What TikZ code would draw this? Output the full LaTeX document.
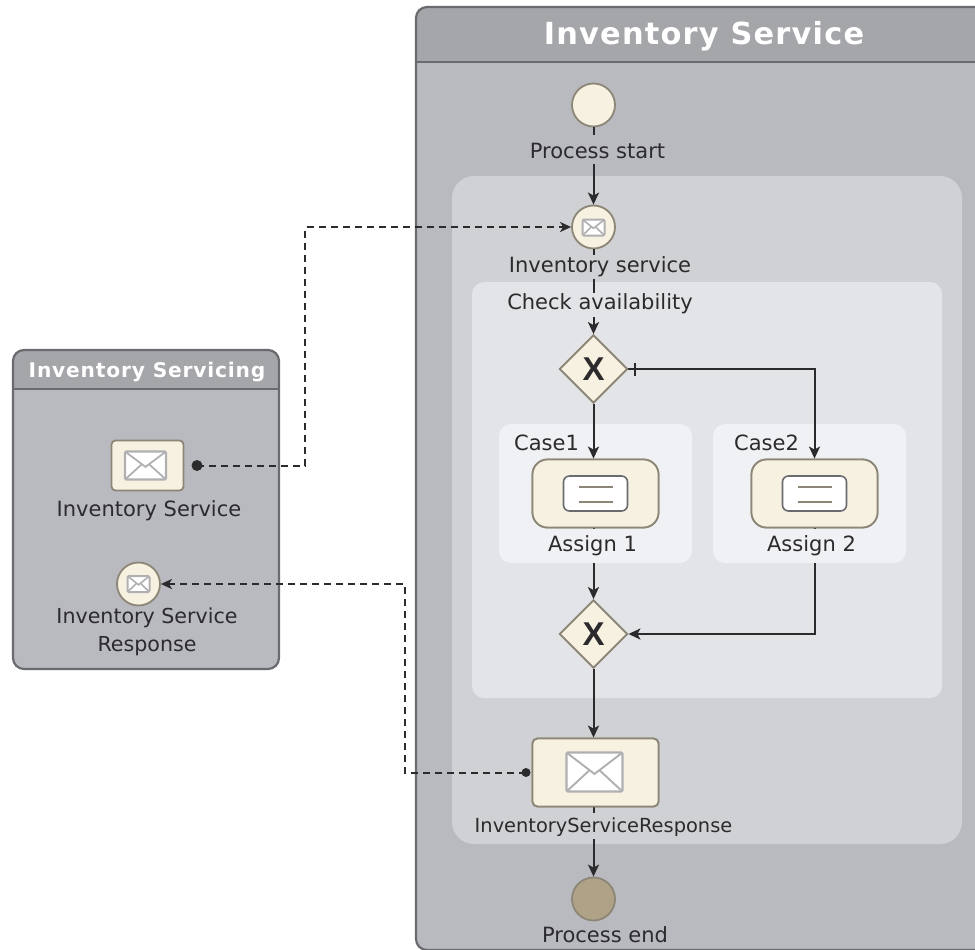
\documentclass[tikz,border=0pt]{standalone}
\usepackage{fontspec}
\setmainfont{DejaVu Sans}
\newfontfamily\titlefont[LetterSpace=4]{DejaVu Sans Bold}
\newfontfamily\gwfont{Liberation Sans Bold}
\usetikzlibrary{arrows.meta,calc,shapes.geometric}
\definecolor{poolbody}{HTML}{B9BAC0}
\definecolor{poolhead}{HTML}{A5A6AA}
\definecolor{poolline}{HTML}{6A6B6E}
\definecolor{scopeA}{HTML}{D0D1D4}
\definecolor{scopeB}{HTML}{E3E4E7}
\definecolor{scopeC}{HTML}{F0F1F4}
\definecolor{cream}{HTML}{F6F1E1}
\definecolor{taupe}{HTML}{8C8676}
\definecolor{endfill}{HTML}{B0A287}
\definecolor{ink}{HTML}{2B2A2C}
\definecolor{envline}{HTML}{B0B0B2}
\newcommand{\envelopeicon}[5]{% x y w h lw
  \draw[envline,line width=#5,fill=white,rounded corners=1.5pt] (#1-#3/2,#2-#4/2) rectangle (#1+#3/2,#2+#4/2);
  \draw[envline,line width=#5*0.8] (#1-#3/2,#2-#4/2) -- (#1,#2+#4*0.05) -- (#1+#3/2,#2-#4/2);
  \draw[envline,line width=#5*0.8] (#1-#3/2,#2+#4/2) -- (#1-#3*0.1,#2-#4*0.03);
  \draw[envline,line width=#5*0.8] (#1+#3/2,#2+#4/2) -- (#1+#3*0.1,#2-#4*0.03);
}
\newcommand{\taskicon}[2]{%
  \draw[poolline,line width=1.6pt,fill=white,rounded corners=6pt] (#1-32,#2-17.5) rectangle (#1+32,#2+17.5);
  \draw[taupe,line width=1.5pt] (#1-17,#2-6.5) -- (#1+17,#2-6.5) (#1-17,#2+8.5) -- (#1+17,#2+8.5);
}
\tikzset{
  x=1pt,y=-1pt,
  event/.style={circle,draw=taupe,fill=cream,line width=1.8pt,minimum size=43pt,inner sep=0pt},
  gateway/.style={diamond,draw=taupe,fill=cream,line width=1.8pt,minimum width=68pt,minimum height=68pt,inner sep=0pt,font=\gwfont\fontsize{33}{33}\selectfont,text=ink},
  tasknode/.style={rectangle,rounded corners=15pt,draw=taupe,fill=cream,line width=1.8pt,minimum width=126pt,minimum height=68pt,inner sep=0pt},
  msgnode/.style={rectangle,rounded corners=5pt,draw=taupe,fill=cream,line width=1.8pt,minimum width=126pt,minimum height=68pt,inner sep=0pt},
  label/.style={text=ink,font=\fontsize{21}{25}\selectfont,inner sep=0pt,anchor=base},
  mask/.style 2 args={text height=#1pt,text depth=#2pt},
  flow/.style={ink,line width=2pt,-{Stealth[length=12pt,width=11pt,inset=3pt]}},
  plainflow/.style={ink,line width=2pt},
  msgflow/.style={ink,line width=2pt,dash pattern=on 7pt off 5pt,-{Stealth[length=11pt,width=10pt,inset=3pt]}},
  pooledge/.style={draw=poolline,line width=2.2pt},
}
\begin{document}
\begin{tikzpicture}
\clip (0,0) rectangle (975,950);
% main pool
\fill[poolbody,rounded corners=11pt] (416,7) rectangle (1000,950);
\begin{scope}
  \clip[rounded corners=11pt] (416,7) rectangle (1000,1000);
  \fill[poolhead] (416,7) rectangle (1000,62);
\end{scope}
\draw[pooledge,rounded corners=11pt] (416,7) rectangle (1000,950);
\draw[pooledge] (416,62) -- (1000,62);
\node[text=white,font=\titlefont\fontsize{30.4}{32}\selectfont,inner sep=0pt,anchor=base] (titleA) at (704,45) {Inventory Service};
% scopes
\fill[scopeA,rounded corners=22pt] (452,176) rectangle (962,844);
\fill[scopeB,rounded corners=12pt] (472,282) rectangle (942,698);
\fill[scopeC,rounded corners=12pt] (499,424) rectangle (692,563);
\fill[scopeC,rounded corners=12pt] (713,424) rectangle (906,563);
% left pool
\fill[poolbody,rounded corners=11pt] (13,350) rectangle (279,669);
\begin{scope}
  \clip[rounded corners=11pt] (13,350) rectangle (279,669);
  \fill[poolhead] (13,350) rectangle (279,389);
\end{scope}
\draw[pooledge,rounded corners=11pt] (13,350) rectangle (279,669);
\draw[pooledge] (13,389) -- (279,389);
\node[text=white,font=\titlefont\fontsize{20.2}{22}\selectfont,inner sep=0pt,anchor=base] (titleB) at (147,377) {Inventory Servicing};
% nodes
\node[event] (start) at (593.5,105) {};
\node[event] (recv) at (593.5,227) {};
\node[gateway] (gw1) at (593.5,369) {X};
\node[tasknode] (a1) at (595.5,493.5) {};
\node[tasknode] (a2) at (814.5,493.5) {};
\node[gateway] (gw2) at (593.5,634) {X};
\node[msgnode] (send) at (595.5,772.5) {};
\node[event,fill=endfill] (stop) at (593.5,899) {};
\node[rectangle,rounded corners=4pt,draw=taupe,fill=cream,line width=1.8pt,minimum width=72pt,minimum height=50pt,inner sep=0pt] (lsend) at (147.5,465.5) {};
\node[event] (lrecv) at (138.5,584) {};
\coordinate (dotA) at (197,465.5);
\coordinate (dotB) at (526,772.5);
\coordinate (tick) at (635,369);
\coordinate (jA) at (305,465.5);
\coordinate (jB) at (405,772.5);
% connectors
\draw[flow] (start) -- (recv);
\draw[flow] (recv) -- (gw1);
\draw[flow] (gw1) -- (gw1 |- a1.north);
\draw[flow] (gw1) -| (a2);
\draw[flow] (gw1 |- a1.south) -- (gw2);
\draw[flow] (a2) |- (gw2);
\draw[flow] (gw2) -- (gw2 |- send.north);
\draw[flow] (gw2 |- send.south) -- (stop);
\draw[plainflow] ($(tick)+(0,-6.5)$) -- ($(tick)+(0,6.5)$);
\draw[msgflow] (dotA) -- (jA) |- (recv);
\draw[msgflow] (dotB) -- (jB) |- (lrecv);
\fill[ink] (dotA) circle (5.5pt);
\fill[ink] (dotB) circle (4.5pt);
% redraw shapes over connectors
\node[gateway] at (gw1) {X};
\node[gateway] at (gw2) {X};
\node[tasknode] at (a1) {};
\node[tasknode] at (a2) {};
\node[msgnode] at (send) {};
% labels
\node[label,fill=poolbody,mask={24}{5}] (lbStart) at (597.5,158.5) {Process start};
\node[label,fill=scopeA,mask={18}{6}] (lbRecv) at (600,272.5) {Inventory service};
\node[label,fill=scopeB,mask={16}{8}] (lbCheck) at (600,309) {Check availability};
\node[label,anchor=base west] (lbCase1) at (514,450) {Case1};
\node[label,anchor=base west] (lbCase2) at (734,450) {Case2};
\node[label,fill=scopeC,mask={22.5}{11.5}] (lbA1) at (592.5,551) {Assign 1};
\node[label,fill=scopeC,mask={22.5}{11.5}] (lbA2) at (811.5,551) {Assign 2};
\node[label,fill=scopeA,mask={19}{7},font=\fontsize{19.4}{24}\selectfont] (lbSend) at (603.5,832) {InventoryServiceResponse};
\node[label] (lbStop) at (605,942.7) {Process end};
\node[label] (lbL1) at (149,516.7) {Inventory Service};
\node[label,anchor=center,align=center,font=\fontsize{20.6}{28.5}\selectfont] (lbL2) at (147,632) {Inventory Service\\Response};
% icons
\taskicon{595.5}{493.5}
\taskicon{814.5}{493.5}
\envelopeicon{593.5}{227.5}{22}{16}{2pt}
\envelopeicon{138.5}{584}{22}{16}{2pt}
\envelopeicon{145.5}{465.5}{41}{28}{2.2pt}
\envelopeicon{594.5}{772}{56}{39}{2.4pt}
\end{tikzpicture}
\end{document}
